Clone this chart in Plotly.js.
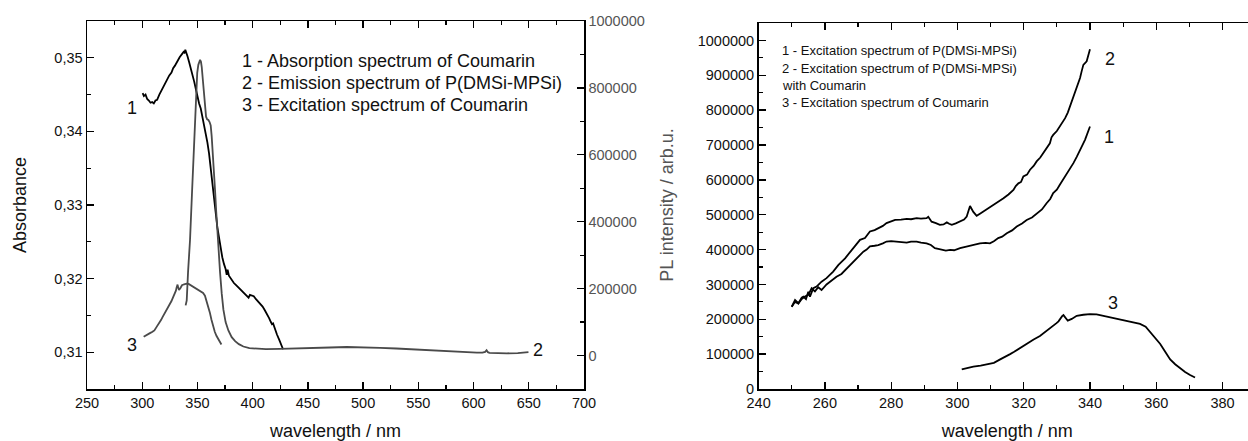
<!DOCTYPE html>
<html>
<head>
<meta charset="utf-8">
<script src="https://cdn.plot.ly/plotly-3.0.1.min.js"></script>
<style>
  html, body { margin: 0; padding: 0; background: #fff; overflow: hidden; width: 1248px; height: 441px; }
  #chart { width: 1256px; height: 441px; }
</style>
</head>
<body>
<div id="chart"></div>
<script>
// ---------------- DATA ----------------
// Left panel, curve 1: absorption spectrum of Coumarin (left axis, absorbance)
const absWl = [300.4, 301.5, 303, 304.5, 306, 307.5, 309, 310.5, 312, 313.5, 315.5, 317.5, 319.5, 321, 322.5, 324.5, 326.5, 328, 329.5, 331, 332.5, 334, 335.5, 336.5, 337.5, 338.3, 339, 339.8, 341, 342.5, 344, 345.5, 347, 348.5, 350, 351.5, 353, 354.5, 356, 357.5, 359, 360.5, 362, 363.5, 365, 366.5, 368, 369.5, 371, 372.5, 374, 375.5, 376.5, 377.3, 378.5, 380, 381.5, 383, 385, 387, 389, 391, 393, 395, 396.3, 397.5, 399, 401, 403, 405, 407, 409, 411, 413, 415, 416.5, 417.5, 418.5, 420, 422, 424, 425.5, 426.5, 427.5];
const absVal = [0.3452, 0.3448, 0.3450, 0.3444, 0.3442, 0.3439, 0.3440, 0.3438, 0.3442, 0.3443, 0.3450, 0.3456, 0.3462, 0.3466, 0.3471, 0.3476, 0.3480, 0.3486, 0.3489, 0.3494, 0.3497, 0.3501, 0.3505, 0.3506, 0.3508, 0.3507, 0.3511, 0.3506, 0.3502, 0.3494, 0.3486, 0.3478, 0.3468, 0.3458, 0.3447, 0.3438, 0.3431, 0.3420, 0.3407, 0.3396, 0.3385, 0.3370, 0.3352, 0.3332, 0.3311, 0.3290, 0.3270, 0.3254, 0.3241, 0.3229, 0.3220, 0.3213, 0.3205, 0.3212, 0.3204, 0.3200, 0.3197, 0.3194, 0.3191, 0.3188, 0.3185, 0.3182, 0.3179, 0.3177, 0.3174, 0.3178, 0.3177, 0.3176, 0.3172, 0.3169, 0.3166, 0.3162, 0.3157, 0.3152, 0.3146, 0.3141, 0.3138, 0.3139, 0.3131, 0.3124, 0.3117, 0.3111, 0.3106, 0.3104];

// Left panel, curve 2: emission spectrum of P(DMSi-MPSi) (right axis, PL intensity)
const emWl = [339.3, 340.3, 341.5, 343.3, 345, 346.3, 347.5, 348.7, 349.8, 350.8, 351.6, 352.4, 353.2, 353.9, 355, 356, 357, 357.8, 358.8, 359.9, 361, 362, 362.9, 363.8, 364.8, 365.9, 367, 368.1, 369.3, 370.5, 372, 373.5, 375.5, 378, 381, 384.1, 387.5, 391.6, 397, 403.7, 412, 424.8, 440, 455, 470, 485.2, 500, 515.4, 530, 545.6, 560, 575.8, 590, 603, 608, 610.5, 611.8, 613, 614.4, 620, 630.1, 640, 649.7];
const emVal = [150000, 165000, 250000, 346000, 480000, 595000, 700000, 794000, 845000, 869000, 880000, 884000, 878000, 862000, 820000, 774000, 735000, 714000, 706000, 704000, 698000, 688000, 655000, 615000, 555000, 496000, 430000, 366000, 305000, 247000, 185000, 137000, 100000, 75000, 55000, 43000, 34000, 27000, 22000, 20000, 19000, 20000, 22000, 23000, 24000, 25500, 25000, 23000, 21000, 18000, 15500, 13000, 10500, 8500, 8500, 11000, 16000, 10000, 8000, 7000, 6500, 7500, 10000];

// Curve 3 (both panels): excitation spectrum of Coumarin (PL intensity)
const coumExWl = [301.3, 303, 304.8, 307, 309.3, 311, 312.9, 314.5, 315.9, 317, 318.4, 320, 321.4, 323, 324.9, 326.5, 327.9, 329, 329.9, 330.5, 331.1, 331.6, 332.0, 332.6, 333.3, 334.5, 336.0, 338, 340.0, 342, 344.0, 346, 348.1, 349.5, 351.1, 353, 355.1, 356.8, 358.1, 359.7, 361.2, 362.7, 364.2, 365.7, 367.2, 368.7, 370.2, 371.7];
const coumExVal = [56000, 60000, 64000, 67000, 71000, 75000, 85000, 92000, 100000, 106000, 115000, 124000, 133000, 142000, 152000, 163000, 174000, 182000, 189000, 194000, 203000, 209000, 212000, 203000, 196000, 201000, 210000, 213000, 215000, 214000, 210000, 207000, 202000, 200000, 196000, 193000, 187000, 179000, 165000, 148000, 129000, 107000, 85000, 71000, 59000, 49000, 40000, 33000];

// Right panel, curve 1: excitation spectrum of P(DMSi-MPSi)
const pExWl = [250, 251, 252, 253, 254, 255, 256, 257, 258, 259, 260.5, 262, 263.5, 265, 266.6, 268, 269.1, 270.5, 271.6, 272.6, 273.6, 275, 276.1, 277.5, 278.6, 280, 281.7, 283, 284.7, 286, 287.7, 289, 290.7, 292, 293.2, 294.2, 295.2, 296.5, 297.8, 299, 300.8, 302.5, 303.8, 305.5, 306.8, 308.5, 309.8, 311, 312.3, 313.5, 314.9, 316.5, 317.9, 319.5, 320.9, 322.5, 323.9, 325.5, 326.9, 328, 328.9, 330, 330.9, 332, 333.0, 334, 335.0, 336, 337.0, 338.5, 340.0];
const pExVal = [236000, 250000, 245000, 258000, 265000, 270000, 289000, 280000, 292000, 284000, 300000, 312000, 322000, 330000, 346000, 358000, 370000, 382000, 394000, 400000, 409000, 411000, 413000, 418000, 423000, 424000, 423000, 422000, 420000, 423000, 423000, 420000, 418000, 413000, 404000, 402000, 399000, 397000, 399000, 398000, 404000, 408000, 413000, 416000, 418000, 419000, 418000, 424000, 433000, 437000, 447000, 455000, 466000, 475000, 485000, 492000, 504000, 515000, 533000, 545000, 562000, 572000, 586000, 602000, 619000, 632000, 648000, 666000, 686000, 715000, 753000];

// Right panel, curve 2: excitation spectrum of P(DMSi-MPSi) with Coumarin
const pcExWl = [250, 251, 252, 253, 253.5, 254.3, 255, 255.5, 256.5, 257.5, 259, 260.5, 262.5, 264.1, 266.1, 268.1, 270.6, 272.1, 273.6, 275, 276.1, 277.5, 278.6, 280, 281.2, 283, 284.7, 286, 287.7, 289, 290.7, 291.2, 292.2, 293.5, 294.7, 295.8, 296.8, 297.5, 298.3, 299.5, 300.8, 302, 302.8, 303.8, 304.8, 305.8, 306.8, 307.8, 309.3, 310.8, 312.3, 313.9, 315.4, 316.9, 317.6, 318.4, 319.2, 319.9, 321, 321.9, 323, 323.9, 325, 325.9, 326.9, 327.9, 328.4, 328.9, 330, 330.9, 331.7, 332.5, 333.3, 334.0, 334.8, 335.5, 336.2, 337.0, 337.5, 338.0, 339.0, 339.5, 340.0];
const pcExVal = [236000, 255000, 246000, 262000, 265000, 258000, 279000, 265000, 289000, 294000, 308000, 318000, 337000, 356000, 375000, 399000, 428000, 433000, 452000, 456000, 461000, 468000, 476000, 480000, 485000, 486000, 488000, 487000, 490000, 489000, 490000, 494000, 480000, 476000, 471000, 472000, 478000, 474000, 471000, 475000, 480000, 486000, 495000, 525000, 508000, 497000, 503000, 509000, 518000, 528000, 537000, 547000, 558000, 571000, 582000, 590000, 594000, 610000, 615000, 629000, 640000, 653000, 664000, 677000, 690000, 705000, 722000, 729000, 740000, 753000, 766000, 777000, 793000, 811000, 830000, 849000, 870000, 892000, 912000, 930000, 940000, 955000, 975000];

// Texts
const leftLegend = ["1 - Absorption spectrum of Coumarin", "2 - Emission spectrum of P(DMSi-MPSi)", "3 - Excitation spectrum of Coumarin"];
const rightLegend = ["1 - Excitation spectrum of P(DMSi-MPSi)", "2 - Excitation spectrum of P(DMSi-MPSi)", "with Coumarin", "3 - Excitation spectrum of Coumarin"];

// ---------------- STYLE / LAYOUT ----------------
const W = 1256, H = 441;
const FONT = "Liberation Sans, Arial, Helvetica, sans-serif";
const GRAY = "#4a4a4a";
const AXGRAY = "#555555";
const fx = p => p / W;
const fy = p => 1 - p / H;

const traces = [
  {x: absWl, y: absVal, xaxis: 'x', yaxis: 'y', mode: 'lines', line: {color: '#000', width: 1.8}, name: leftLegend[0]},
  {x: emWl, y: emVal, xaxis: 'x', yaxis: 'y2', mode: 'lines', line: {color: GRAY, width: 1.8}, name: leftLegend[1]},
  {x: coumExWl, y: coumExVal, xaxis: 'x', yaxis: 'y2', mode: 'lines', line: {color: GRAY, width: 1.8}, name: leftLegend[2]},
  {x: pExWl, y: pExVal, xaxis: 'x2', yaxis: 'y3', mode: 'lines', line: {color: '#000', width: 1.8}, name: rightLegend[0]},
  {x: pcExWl, y: pcExVal, xaxis: 'x2', yaxis: 'y3', mode: 'lines', line: {color: '#000', width: 1.8}, name: rightLegend[1] + ' ' + rightLegend[2]},
  {x: coumExWl, y: coumExVal, xaxis: 'x2', yaxis: 'y3', mode: 'lines', line: {color: '#000', width: 1.8}, name: rightLegend[3]}
];

const tickFont = {family: FONT, size: 14.5, color: '#111'};
const titleFont = {family: FONT, size: 18, color: '#111'};
const common = {
  showgrid: false, zeroline: false, showline: true, linecolor: '#000', linewidth: 1.5,
  ticks: 'inside', ticklen: 7, tickwidth: 1.3, tickcolor: '#000', tickfont: tickFont,
  automargin: false, fixedrange: true
};

const yDomL = [fy(389), fy(21)];
const yDomR = [fy(389), fy(23)];

const layout = {
  width: W, height: H,
  margin: {l: 0, r: 0, t: 0, b: 0, pad: 0},
  paper_bgcolor: '#fff', plot_bgcolor: '#fff',
  showlegend: false,
  separators: ',.',
  font: {family: FONT, color: '#111'},
  xaxis: Object.assign({}, common, {
    domain: [fx(87), fx(584)], anchor: 'y', range: [250, 700], tick0: 250, dtick: 50,
    mirror: 'ticks',
    minor: {dtick: 25, ticks: 'inside', ticklen: 4, tickcolor: '#000', tickwidth: 1.2},
    title: {text: 'wavelength / nm', font: titleFont, standoff: 17}
  }),
  yaxis: Object.assign({}, common, {
    domain: yDomL, anchor: 'x', range: [0.305, 0.355], tick0: 0.31, dtick: 0.01, tickformat: '.2f',
    minor: {dtick: 0.005, ticks: 'inside', ticklen: 4, tickcolor: '#000', tickwidth: 1.2},
    title: {text: 'Absorbance', font: titleFont, standoff: 23}
  }),
  yaxis2: Object.assign({}, common, {
    overlaying: 'y', side: 'right', anchor: 'x', range: [-100000, 1000000], tick0: 0, dtick: 200000,
    tickformat: 'd', tickfont: {family: FONT, size: 14.5, color: AXGRAY},
    minor: {dtick: 100000, ticks: 'inside', ticklen: 4, tickcolor: '#000', tickwidth: 1.2},
    title: {text: 'PL intensity / arb.u.', font: {family: FONT, size: 18, color: AXGRAY}, standoff: 16}
  }),
  xaxis2: Object.assign({}, common, {
    domain: [fx(758.6), 1], anchor: 'y3', range: [240, 390.1], tick0: 240, dtick: 20,
    mirror: 'ticks',
    minor: {dtick: 10, ticks: 'inside', ticklen: 4, tickcolor: '#000', tickwidth: 1.2},
    title: {text: 'wavelength / nm', font: titleFont, standoff: 17}
  }),
  yaxis3: Object.assign({}, common, {
    domain: yDomR, anchor: 'x2', range: [0, 1050000], tick0: 0, dtick: 100000, tickformat: 'd',
    minor: {dtick: 50000, ticks: 'inside', ticklen: 4, tickcolor: '#000', tickwidth: 1.2}
  }),
  annotations: []
};

function addText(text, px, py, size, anchor) {
  layout.annotations.push({
    text: text, xref: 'paper', yref: 'paper', x: fx(px), y: fy(py),
    xanchor: anchor || 'left', yanchor: 'middle', showarrow: false,
    font: {family: FONT, size: size, color: '#111'}, borderpad: 0
  });
}
// legend of the left panel
const leftLegendY = [60.5, 82.7, 105.3];
leftLegend.forEach((t, i) => addText(t, 241, leftLegendY[i], 18));
// legend of the right panel
const rightLegendY = [50.5, 68.5, 85.5, 103];
rightLegend.forEach((t, i) => addText(t, 781, rightLegendY[i], 13));
// curve numbers
addText('1', 131.7, 108, 18, 'center');
addText('3', 131.7, 344.5, 18, 'center');
addText('2', 538.3, 350, 18, 'center');
addText('2', 1110, 59.5, 18, 'center');
addText('1', 1109, 136.5, 18, 'center');
addText('3', 1113, 303, 18, 'center');

Plotly.newPlot('chart', traces, layout, {staticPlot: true, displayModeBar: false});
</script>
</body>
</html>
